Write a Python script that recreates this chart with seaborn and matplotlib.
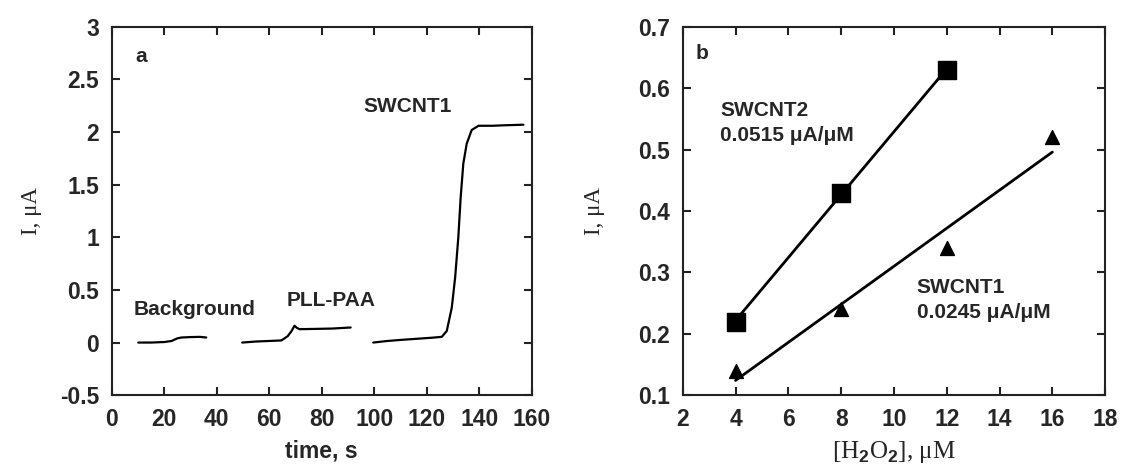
import numpy as np
import pandas as pd
import matplotlib
matplotlib.use('Agg')
import matplotlib.pyplot as plt
import seaborn as sns

# panel a: current traces (time in s, current in uA)
bg_t = [10.1, 15, 20, 22.8, 25, 26.6, 30, 33.5, 36]
bg_i = [0.0, 0.0, 0.005, 0.015, 0.04, 0.048, 0.052, 0.054, 0.048]

pll_t = [49.7, 55, 60, 64.6, 67, 68.5, 69.6, 70.5, 71.5, 78, 84, 91]
pll_i = [0.0, 0.01, 0.015, 0.02, 0.06, 0.11, 0.16, 0.14, 0.127, 0.13, 0.133, 0.143]

sw_t = [99.6, 105, 110, 117.4, 122, 125.7, 127.6, 129.5, 130.8, 132.0, 132.9,
        133.9, 135.2, 137.1, 139.7, 145, 150, 156.8]
sw_i = [0.0, 0.015, 0.025, 0.038, 0.046, 0.054, 0.11, 0.33, 0.62, 1.0, 1.38,
        1.70, 1.89, 2.02, 2.06, 2.06, 2.065, 2.07]

# panel b: calibration points
h2o2_sw2 = [4, 8, 12]
cur_sw2 = [0.22, 0.43, 0.63]
h2o2_sw1 = [4, 8, 12, 16]
cur_sw1 = [0.14, 0.24, 0.34, 0.52]

a_yticks = [-0.5, 0, 0.5, 1, 1.5, 2, 2.5, 3]
a_ylabels = ['-0.5', '0', '0.5', '1', '1.5', '2', '2.5', '3']
a_xticks = [0, 20, 40, 60, 80, 100, 120, 140, 160]
b_xticks = [2, 4, 6, 8, 10, 12, 14, 16, 18]
b_yticks = [0.1, 0.2, 0.3, 0.4, 0.5, 0.6, 0.7]

traces = pd.concat([
    pd.DataFrame({'t': bg_t, 'i': bg_i, 'seg': 'Background'}),
    pd.DataFrame({'t': pll_t, 'i': pll_i, 'seg': 'PLL-PAA'}),
    pd.DataFrame({'t': sw_t, 'i': sw_i, 'seg': 'SWCNT1'}),
])
sw2 = pd.DataFrame({'c': h2o2_sw2, 'i': cur_sw2})
sw1 = pd.DataFrame({'c': h2o2_sw1, 'i': cur_sw1})

sns.set_style('ticks')
plt.rcParams['font.family'] = ['Liberation Sans', 'DejaVu Sans']
plt.rcParams['mathtext.fontset'] = 'custom'
plt.rcParams['mathtext.rm'] = 'Liberation Sans:bold'
plt.rcParams['axes.linewidth'] = 1.5

fig = plt.figure(figsize=(11.22, 4.71), dpi=100)
ax1 = fig.add_axes([0.0996, 0.161, 0.3744, 0.782])
ax2 = fig.add_axes([0.6085, 0.161, 0.3765, 0.782])

tick_font = dict(fontsize=16.5, fontweight='bold')
serif = ['Liberation Serif', 'DejaVu Serif']

# --- panel a
sns.lineplot(data=traces, x='t', y='i', units='seg', estimator=None,
             color='black', lw=1.6, ax=ax1)
ax1.set(xlim=(0, 160), ylim=(-0.5, 3))
ax1.set_xticks(a_xticks)
ax1.set_xticklabels([str(v) for v in a_xticks], **tick_font)
ax1.set_yticks(a_yticks)
ax1.set_yticklabels(a_ylabels, **tick_font)
ax1.set_xlabel('time, s', fontsize=16.5, fontweight='bold', labelpad=6)
ax1.set_ylabel('I, μA', fontsize=16.5, family=serif, labelpad=13)
ax1.text(8.9, 2.72, 'a', fontsize=15, fontweight='bold', va='center')
ax1.text(8.2, 0.31, 'Background', fontsize=15, fontweight='bold', va='center')
ax1.text(66.7, 0.40, 'PLL-PAA', fontsize=15, fontweight='bold', va='center')
ax1.text(95.9, 2.24, 'SWCNT1', fontsize=15, fontweight='bold', va='center')

# --- panel b
sns.regplot(data=sw2, x='c', y='i', ci=None, marker='s', color='black',
            scatter_kws={'s': 150, 'alpha': 1, 'zorder': 3},
            line_kws={'lw': 2}, ax=ax2)
sns.regplot(data=sw1, x='c', y='i', ci=None, marker='^', color='black',
            scatter_kws={'s': 100, 'alpha': 1, 'zorder': 3},
            line_kws={'lw': 2}, ax=ax2)
ax2.set(xlim=(2, 18), ylim=(0.1, 0.7))
ax2.set_xticks(b_xticks)
ax2.set_xticklabels([str(v) for v in b_xticks], **tick_font)
ax2.set_yticks(b_yticks)
ax2.set_yticklabels([f'{v:.1f}' for v in b_yticks], **tick_font)
ax2.set_xlabel('[H$_2$O$_2$], μM', fontsize=18, family=serif, labelpad=6)
ax2.set_ylabel('I, μA', fontsize=16.5, family=serif, labelpad=24)
ax2.text(2.47, 0.656, 'b', fontsize=15, fontweight='bold', va='center')
ax2.text(3.41, 0.563, 'SWCNT2', fontsize=15, fontweight='bold', va='center')
ax2.text(3.41, 0.523, '0.0515 μA/μM', fontsize=15, fontweight='bold', va='center')
ax2.text(10.86, 0.276, 'SWCNT1', fontsize=15, fontweight='bold', va='center')
ax2.text(10.86, 0.235, '0.0245 μA/μM', fontsize=15, fontweight='bold', va='center')

for ax in (ax1, ax2):
    ax.tick_params(direction='in', length=6, width=1.5, top=True, right=True,
                   pad=9, color='#222222')
    for sp in ax.spines.values():
        sp.set_visible(True)
        sp.set_color('#222222')

fig.savefig('out.png', dpi=100)
